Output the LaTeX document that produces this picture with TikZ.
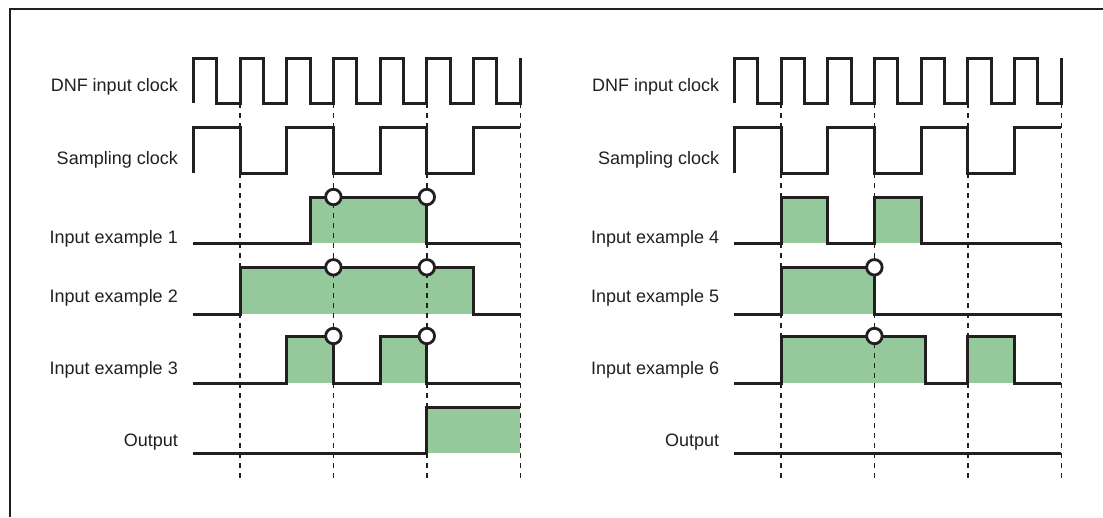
\documentclass[tikz,border=0pt]{standalone}
\usepackage{fontspec}
\setmainfont{Liberation Sans}
\definecolor{sig}{RGB}{149,200,155}
\definecolor{ink}{RGB}{35,31,32}
\newcommand\dnfwave{(0,103) -- (0,58) -- (1,58) -- (1,103) -- (2,103) -- (2,58) -- (3,58) -- (3,103) -- (4,103) -- (4,58) -- (5,58) -- (5,103) -- (6,103) -- (6,58) -- (7,58) -- (7,103) -- (8,103) -- (8,58) -- (9,58) -- (9,103) -- (10,103) -- (10,58) -- (11,58) -- (11,103) -- (12,103) -- (12,58) -- (13,58) -- (13,103) -- (14,103) -- (14,58)}
\newcommand\sampwave{(0,173.3) -- (0,127) -- (2,127) -- (2,173.3) -- (4,173.3) -- (4,127) -- (6,127) -- (6,173.3) -- (8,173.3) -- (8,127) -- (10,127) -- (10,173.3) -- (12,173.3) -- (12,127) -- (14,127)}
\begin{document}
\begin{tikzpicture}[x=1pt,y=-1pt,
  wave/.style={draw=ink, line width=3pt, line join=miter},
  gridline/.style={draw=ink, line width=1.4pt, dash pattern=on 5pt off 5pt},
  lbl/.style={anchor=base east, inner sep=0pt, font=\fontsize{18}{22}\selectfont, text=ink},
  probe/.style={circle, draw=ink, fill=white, line width=2.8pt, minimum size=15.5pt, inner sep=0pt}]
\useasboundingbox (0,0) rectangle (1103,517);
\fill[white] (0,0) rectangle (1103,517);
\draw[ink, line width=2.2pt] (10,517) -- (10,9) -- (1103,9);

% labels left
\node[lbl] (lA) at (178,91.7) {DNF input clock};
\node[lbl] (lB) at (178,164.3) {Sampling clock};
\node[lbl] (lC) at (178,243) {Input example 1};
\node[lbl] (lD) at (178,302) {Input example 2};
\node[lbl] (lE) at (178,374) {Input example 3};
\node[lbl] (lF) at (178,446.7) {Output};
% labels right
\node[lbl] (rA) at (719.3,91.7) {DNF input clock};
\node[lbl] (rB) at (719.3,164.3) {Sampling clock};
\node[lbl] (rC) at (719.3,243) {Input example 4};
\node[lbl] (rD) at (719.3,302) {Input example 5};
\node[lbl] (rE) at (719.3,374) {Input example 6};
\node[lbl] (rF) at (719.3,446.7) {Output};

% left panel
\begin{scope}[x=23.35pt, y=-1pt, shift={(193.3pt,0pt)}]
  \fill[sig] (5,197) rectangle (10,243.3);
  \fill[sig] (2,267.3) rectangle (12,314);
  \fill[sig] (4,336) rectangle (6,383.3);
  \fill[sig] (8,336) rectangle (10,383.3);
  \fill[sig] (10,407.3) rectangle (14,453.3);
  \foreach \k in {2,6,10,14} \draw[gridline] (\k,103) -- (\k,479);
  \draw[wave] \dnfwave;
  \draw[wave] \sampwave;
  \draw[wave] (0,243.3) -- (5,243.3) -- (5,197) -- (10,197) -- (10,243.3) -- (14,243.3);
  \draw[wave] (0,314) -- (2,314) -- (2,267.3) -- (12,267.3) -- (12,314) -- (14,314);
  \draw[wave] (0,383.3) -- (4,383.3) -- (4,336) -- (6,336) -- (6,383.3) -- (8,383.3) -- (8,336) -- (10,336) -- (10,383.3) -- (14,383.3);
  \draw[wave] (0,453.3) -- (10,453.3) -- (10,407.3) -- (14,407.3);
  \node[probe] (p1a) at (6,197) {};
  \node[probe] (p1b) at (10,197) {};
  \node[probe] (p2a) at (6,267.3) {};
  \node[probe] (p2b) at (10,267.3) {};
  \node[probe] (p3a) at (6,336) {};
  \node[probe] (p3b) at (10,336) {};
\end{scope}

% right panel
\begin{scope}[x=23.35pt, y=-1pt, shift={(734.3pt,0pt)}]
  \fill[sig] (2,197) rectangle (4,243.3);
  \fill[sig] (6,197) rectangle (8,243.3);
  \fill[sig] (2,267.3) rectangle (6,314);
  \fill[sig] (2,336) rectangle (8.2,383.3);
  \fill[sig] (10,336) rectangle (12,383.3);
  \foreach \k in {2,6,10,14} \draw[gridline] (\k,103) -- (\k,479);
  \draw[wave] \dnfwave;
  \draw[wave] \sampwave;
  \draw[wave] (0,243.3) -- (2,243.3) -- (2,197) -- (4,197) -- (4,243.3) -- (6,243.3) -- (6,197) -- (8,197) -- (8,243.3) -- (14,243.3);
  \draw[wave] (0,314) -- (2,314) -- (2,267.3) -- (6,267.3) -- (6,314) -- (14,314);
  \draw[wave] (0,383.3) -- (2,383.3) -- (2,336) -- (8.2,336) -- (8.2,383.3) -- (10,383.3) -- (10,336) -- (12,336) -- (12,383.3) -- (14,383.3);
  \draw[wave] (0,453.3) -- (14,453.3);
  \node[probe] (q5) at (6,267.3) {};
  \node[probe] (q6) at (6,336) {};
\end{scope}
\end{tikzpicture}
\end{document}
